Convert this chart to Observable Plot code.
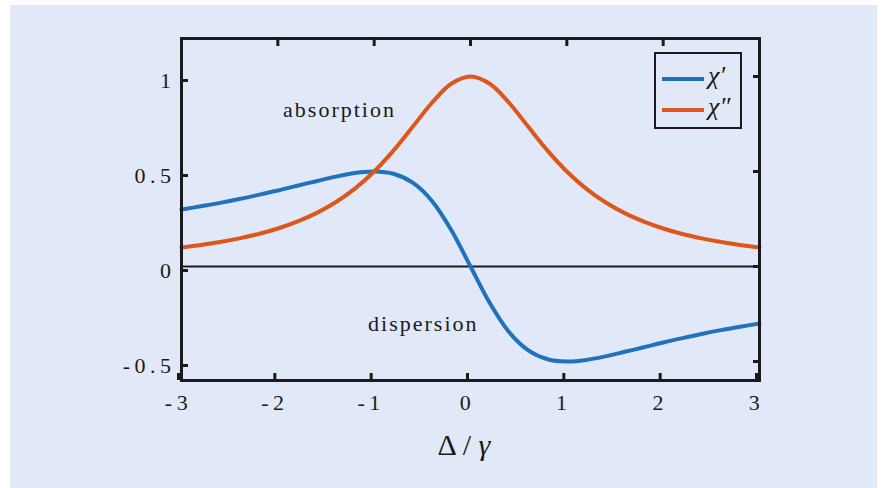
<!DOCTYPE html>
<html>
<head>
<meta charset="utf-8">
<script src="https://cdn.jsdelivr.net/npm/d3@7"></script>
<script src="https://cdn.jsdelivr.net/npm/@observablehq/plot@0.6"></script>
<style>
html, body { margin: 0; padding: 0; background: #ffffff; }
#wrap { position: relative; width: 883px; height: 488px; }
#bg { position: absolute; left: 10px; top: 5px; width: 867px; height: 483px; background: #e1e8f7; }
#chart { position: absolute; left: 0; top: 0; }
#chart g[aria-label="x-axis tick label"] text { letter-spacing: 4.5px; }
#chart g[aria-label="y-axis tick label"] text { letter-spacing: 4.5px; }
#chart g[aria-label="text"] text { letter-spacing: 2px; }
#legend { position: absolute; left: 654px; top: 52px; width: 84px; height: 73px; border: 2px solid #1a1a1a; background: #e1e8f7; }
.lg-line { position: absolute; left: 6px; width: 42px; height: 4px; }
.lg-text { position: absolute; left: 52px; font-family: 'Liberation Serif'; font-style: italic; font-size: 26px; line-height: 1; color: #1a1a1a; }
#xlabel { position: absolute; left: 364px; width: 200px; top: 430px; text-align: center; font-family: 'Liberation Serif'; font-size: 30px; line-height: 1; color: #1a1a1a; }
</style>
</head>
<body>
<div id="wrap">
  <div id="bg"></div>
  <div id="chart"></div>
  <div id="legend"></div>
  <div id="xlabel"></div>
</div>
<script>
// detuning values Δ/γ
const detuning = [-3, -2.8, -2.6, -2.4, -2.2, -2, -1.8, -1.6, -1.4, -1.2, -1, -0.8, -0.6, -0.4, -0.2, 0,
                  0.2, 0.4, 0.6, 0.8, 1, 1.2, 1.4, 1.6, 1.8, 2, 2.2, 2.4, 2.6, 2.8, 3];
// χ' (dispersion)
const chiPrime = [0.300, 0.317, 0.335, 0.355, 0.377, 0.400, 0.425, 0.449, 0.473, 0.492, 0.500, 0.488, 0.441, 0.345, 0.192, 0.000,
                  -0.192, -0.345, -0.441, -0.488, -0.500, -0.492, -0.473, -0.449, -0.425, -0.400, -0.377, -0.355, -0.335, -0.317, -0.300];
// χ'' (absorption)
const chiDoublePrime = [0.100, 0.113, 0.129, 0.148, 0.171, 0.200, 0.236, 0.281, 0.338, 0.410, 0.500, 0.610, 0.735, 0.862, 0.962, 1.000,
                        0.962, 0.862, 0.735, 0.610, 0.500, 0.410, 0.338, 0.281, 0.236, 0.200, 0.171, 0.148, 0.129, 0.113, 0.100];

const seriesNames = ["χ′", "χ″"];
const seriesColors = ["#1f72bb", "#dd561c"];

const xTicks = [-3, -2, -1, 0, 1, 2, 3];
const xTickLabels = ["-3", "-2", "-1", "0", "1", "2", "3"];
const yTicks = [-0.5, 0, 0.5, 1];
const yTickLabels = ["-0.5", "0", "0.5", "1"];

const annotationLabels = ["absorption", "dispersion"];
const annotationX = [-1.36, -0.49];
const annotationY = [0.824, -0.30];

const xAxisLabel = "Δ / γ";

// build tables
const rows = [];
detuning.forEach((d, i) => {
  rows.push({x: d, y: chiPrime[i], s: seriesNames[0]});
  rows.push({x: d, y: chiDoublePrime[i], s: seriesNames[1]});
});
const annotations = annotationLabels.map((t, i) => ({t, x: annotationX[i], y: annotationY[i]}));

const ink = "#1a1a1a";

const chart = Plot.plot({
  width: 883,
  height: 488,
  marginLeft: 181,
  marginRight: 124,
  marginTop: 38,
  marginBottom: 108,
  style: {fontFamily: "'Liberation Serif'", fontSize: "22px", color: ink, background: "none"},
  x: {domain: [-3, 3]},
  y: {domain: [-0.6, 1.2]},
  color: {domain: seriesNames, range: seriesColors},
  marks: [
    Plot.ruleY([0], {stroke: ink, strokeWidth: 2}),
    Plot.line(rows, {x: "x", y: "y", z: "s", stroke: "s", strokeWidth: 4, curve: "catmull-rom"}),
    Plot.text(annotations, {x: "x", y: "y", text: "t", fontSize: 22, fill: ink}),
    Plot.frame({stroke: ink, strokeWidth: 3}),
    Plot.axisX({anchor: "bottom", ticks: xTicks, tickFormat: (d) => xTickLabels[xTicks.indexOf(d)], tickSize: -7, tickPadding: 21, strokeWidth: 3, label: null, fontSize: 22, dx: -3}),
    Plot.axisX({anchor: "top", ticks: xTicks, tickFormat: () => "", tickSize: -7, strokeWidth: 3, label: null}),
    Plot.axisY({anchor: "left", ticks: yTicks, tickFormat: (d) => yTickLabels[yTicks.indexOf(d)], tickSize: -7, tickPadding: 13, strokeWidth: 3, label: null, fontSize: 22, dy: 4}),
    Plot.axisY({anchor: "right", ticks: yTicks, tickFormat: () => "", tickSize: -7, strokeWidth: 3, label: null})
  ]
});
document.getElementById("chart").appendChild(chart);

// legend
const legend = document.getElementById("legend");
const legendTops = [25, 56];
seriesNames.forEach((name, i) => {
  const line = document.createElement("div");
  line.className = "lg-line";
  line.style.top = (legendTops[i] - 2) + "px";
  line.style.background = seriesColors[i];
  legend.appendChild(line);
  const txt = document.createElement("div");
  txt.className = "lg-text";
  txt.style.top = (legendTops[i] - 16) + "px";
  txt.textContent = name;
  legend.appendChild(txt);
});

// x-axis title
const xl = document.getElementById("xlabel");
const parts = xAxisLabel.split(" / ");
xl.appendChild(document.createTextNode(parts[0] + " / "));
const it = document.createElement("i");
it.textContent = parts[1];
xl.appendChild(it);
</script>
</body>
</html>
